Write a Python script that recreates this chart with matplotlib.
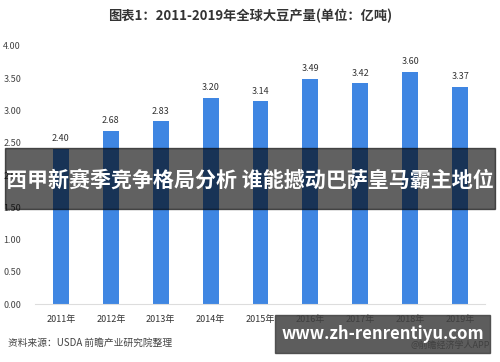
import matplotlib.pyplot as plt
from matplotlib.patches import Rectangle

plt.rcParams['font.family'] = ['Noto Sans CJK SC', 'DejaVu Sans']

# 数据
years = ["2011年", "2012年", "2013年", "2014年", "2015年", "2016年", "2017年", "2018年", "2019年"]
output = [2.40, 2.68, 2.83, 3.20, 3.14, 3.49, 3.42, 3.60, 3.37]
yticks = [0.0, 0.5, 1.0, 1.5, 2.0, 2.5, 3.0, 3.5, 4.0]

fig = plt.figure(figsize=(5, 3.62), dpi=100)
ax = fig.add_axes([0.07, 0.160, 0.90, 0.713])

x = range(len(years))
ax.bar(x, output, width=0.32, color="#3f86e2")
for i, v in zip(x, output):
    ax.text(i, v + 0.09, f"{v:.2f}", ha="center", va="bottom", fontsize=6.5, color="#333333")

ax.set_xlim(-0.52, 8.5)
ax.set_ylim(0, 4)
ax.set_xticks(list(x))
ax.set_xticklabels(years, fontsize=6.5, color="#333333")
ax.set_yticks(yticks)
ax.set_yticklabels([f"{t:.2f}" for t in yticks], fontsize=6.5, color="#444444")
ax.tick_params(length=0, pad=8)
ax.tick_params(axis="y", pad=10)
for s in ["top", "right", "left"]:
    ax.spines[s].set_visible(False)
ax.spines["bottom"].set_color("#dddddd")

fig.text(0.5, 0.955, "图表1：2011-2019年全球大豆产量(单位：亿吨)", ha="center", va="center",
         fontsize=9.5, fontweight="bold", color="#333333")
fig.text(0.016, 0.052, "资料来源：USDA 前瞻产业研究院整理", ha="left", va="center",
         fontsize=7, color="#444444")
fig.text(0.98, 0.045, "@前瞻经济学人APP", ha="right", va="center", fontsize=6.5, color="#444444")

# 遮罩横幅
fig.patches.append(Rectangle((0.01, 0.423), 0.98, 0.168, transform=fig.transFigure,
                             color="black", alpha=0.62, zorder=5))
fig.text(0.5, 0.503, "西甲新赛季竞争格局分析 谁能撼动巴萨皇马霸主地位", ha="center", va="center",
         fontsize=15.1, fontweight="bold", color="white", zorder=6)
fig.patches.append(Rectangle((0.55, 0.025), 0.43, 0.105, transform=fig.transFigure,
                             color="#404040", alpha=0.85, zorder=5))
fig.text(0.765, 0.078, "www.zh-renrentiyu.com", ha="center", va="center",
         fontsize=12, fontweight="bold", color="white", zorder=6)

plt.savefig("out.png", dpi=100)
